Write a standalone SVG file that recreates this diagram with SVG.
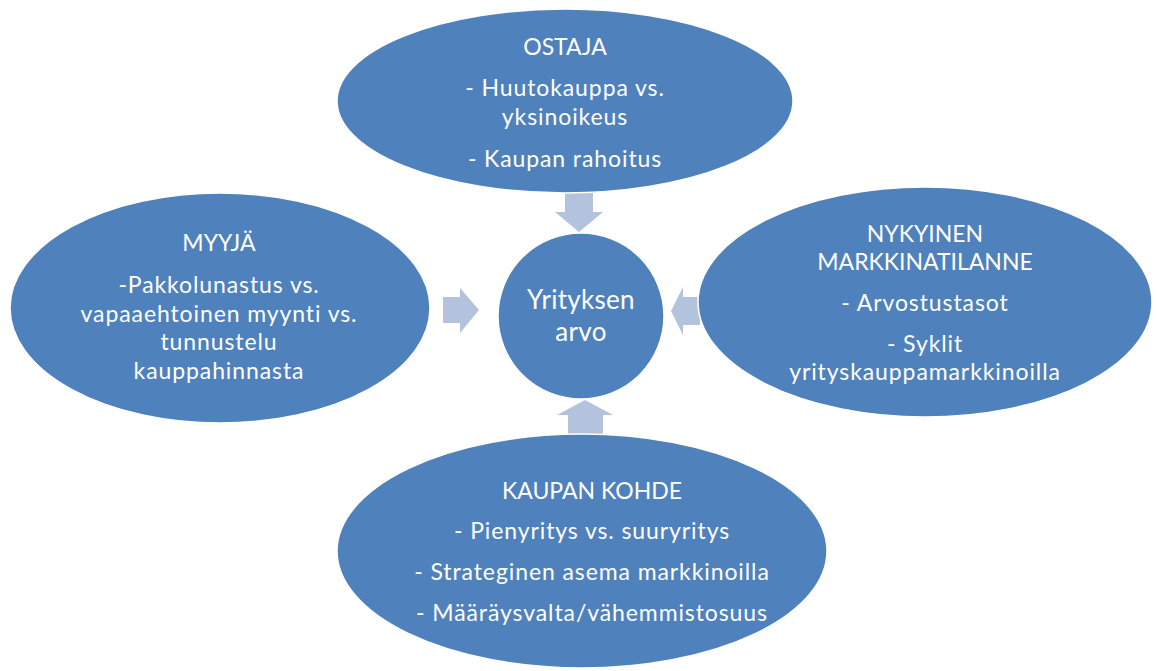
<svg xmlns="http://www.w3.org/2000/svg" width="1157" height="671" viewBox="0 0 1157 671">
<style>
.n{fill:#4f81bd;stroke:#ffffff;stroke-width:1.5}
.a{fill:#b3c3de}
text{font-family:Lato,"Liberation Sans",sans-serif;font-size:23px;letter-spacing:0.9px;fill:#ffffff;text-anchor:middle}
.h{letter-spacing:0}
.c{font-size:26px;letter-spacing:0.3px}
</style>
<rect width="1157" height="671" fill="#ffffff"/>
<g id="connectors">
<path class="a" d="M565,185 H593 V212 H603 L579,232 L555,212 H565 Z"/>
<path class="a" d="M443,297 H460 V288 L479,310 L460,333 V323 H443 Z"/>
<path class="a" d="M700,297 H683 V287 L671,311 L683,335 V325 H700 Z"/>
<path class="a" d="M568,440 H603 V415 H613 L585,400 L557,415 H568 Z"/>
</g>
<g id="ostaja">
<ellipse class="n" cx="565" cy="101" rx="228" ry="92"/>
<text class="h" x="565" y="55">OSTAJA</text>
<text x="565" y="96">- Huutokauppa vs.</text>
<text x="565" y="125">yksinoikeus</text>
<text x="565" y="167">- Kaupan rahoitus</text>
</g>
<g id="myyja">
<ellipse class="n" cx="220" cy="308" rx="210" ry="115"/>
<text class="h" x="219" y="251">MYYJÄ</text>
<text x="219" y="293">-Pakkolunastus vs.</text>
<text x="219" y="322">vapaaehtoinen myynti vs.</text>
<text x="219" y="350">tunnustelu</text>
<text x="219" y="379">kauppahinnasta</text>
</g>
<g id="markkinatilanne">
<ellipse class="n" cx="925" cy="302" rx="227" ry="115"/>
<text class="h" x="925" y="242">NYKYINEN</text>
<text class="h" x="925" y="270">MARKKINATILANNE</text>
<text x="925" y="311">- Arvostustasot</text>
<text x="925" y="352">- Syklit</text>
<text x="925" y="380">yrityskauppamarkkinoilla</text>
</g>
<g id="kohde">
<ellipse class="n" cx="582" cy="551" rx="245" ry="117"/>
<text class="h" x="592" y="499">KAUPAN KOHDE</text>
<text x="592" y="539">- Pienyritys vs. suuryritys</text>
<text x="592" y="580">- Strateginen asema markkinoilla</text>
<text x="592" y="621">- Määräysvalta/vähemmistosuus</text>
</g>
<g id="arvo">
<circle class="n" cx="581" cy="316" r="83"/>
<text class="c" x="581" y="309">Yrityksen</text>
<text class="c" x="581" y="341">arvo</text>
</g>
</svg>
